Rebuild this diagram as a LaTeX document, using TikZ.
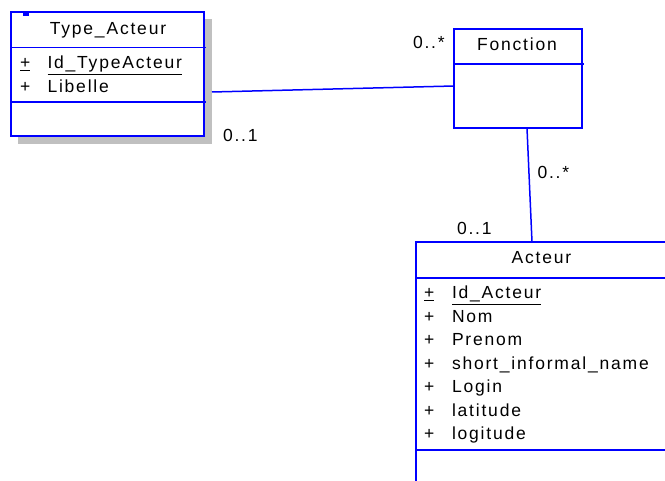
\documentclass[tikz,border=0pt]{standalone}
\usepackage{fontspec}
\newfontfamily\umlfont{Liberation Sans}[LetterSpace=10.3]
\usetikzlibrary{calc}
\definecolor{umlblue}{RGB}{0,0,255}
\definecolor{shadowgray}{RGB}{192,192,192}
\begin{document}
\begin{tikzpicture}[x=1pt,y=-1pt]
\tikzset{
  umlline/.style={draw=umlblue, line width=1.5pt},
  umlbox/.style={draw=umlblue, line width=1.5pt, fill=white, anchor=north west, inner sep=0pt, outer sep=0pt},
  txt/.style={inner sep=0pt, outer sep=0pt, font=\umlfont\fontsize{17.5pt}{20pt}\selectfont, text=black},
  attr/.style={txt, anchor=base west},
  title/.style={txt, anchor=base},
}
\clip (0,0) rectangle (665,481);
\fill[white] (0,0) rectangle (665,481);

% ---------- Type_Acteur ----------
\fill[shadowgray] (18,19) rectangle (212,144);
\node[umlbox, minimum width=193pt, minimum height=124pt] (ta) at (11,12) {};
\fill[umlblue] ($(ta.north west)+(12,1.5)$) rectangle ($(ta.north west)+(17.5,4)$);
\draw[umlline] ($(ta.north west)+(0,35.5)$) -- ($(ta.north east)+(1.5,35.5)$);
\draw[umlline] ($(ta.north west)+(0,90)$) -- ($(ta.north east)+(1.5,90)$);
\node[title] (taT) at (108,34.3) {Type\_Acteur};
\node[attr] (taP1) at (20,69) {\underline{+}};
\node[attr] (taA1) at (47.5,69) {\underline{Id\_TypeActeur}};
\node[attr] (taP2) at (20,92.5) {+};
\node[attr] (taA2) at (47.5,92.5) {Libelle};

% ---------- Fonction ----------
\node[umlbox, minimum width=128pt, minimum height=99pt] (fo) at (454,29) {};
\draw[umlline] ($(fo.north west)+(0,35)$) -- ($(fo.north east)+(2,35)$);
\node[title] (foT) at (517,51) {Fonction};

% ---------- Acteur ----------
\node[umlbox, minimum width=251pt, minimum height=300pt] (ac) at (416,242) {};
\draw[umlline] ($(ac.north west)+(0,36)$) -- ($(ac.north east)+(0,36)$);
\draw[umlline] ($(ac.north west)+(0,208)$) -- ($(ac.north east)+(0,208)$);
\node[title] (acT) at (541.5,264) {Acteur};
\node[attr] (acP1) at (424,299) {\underline{+}};
\node[attr] (acA1) at (452,299) {\underline{Id\_Acteur}};
\node[attr] (acP2) at (424,322.5) {+};
\node[attr] (acA2) at (452,322.5) {Nom};
\node[attr] (acP3) at (424,346) {+};
\node[attr] (acA3) at (452,346) {Prenom};
\node[attr] (acP4) at (424,369.5) {+};
\node[attr] (acA4) at (452,369.5) {short\_informal\_name};
\node[attr] (acP5) at (424,393) {+};
\node[attr] (acA5) at (452,393) {Login};
\node[attr] (acP6) at (424,416.5) {+};
\node[attr] (acA6) at (452,416.5) {latitude};
\node[attr] (acP7) at (424,440) {+};
\node[attr] (acA7) at (452,440) {logitude};

% ---------- Connectors ----------
\coordinate (taR) at ($(ta.north east)+(8,80)$);
\coordinate (foL) at ($(fo.north west)+(0,57)$);
\draw[umlline] (taR) -- (foL);
\coordinate (foB) at ($(fo.south west)+(73,0)$);
\coordinate (acTop) at ($(ac.north west)+(116,0)$);
\draw[umlline] (foB) -- (acTop);

% ---------- Multiplicities ----------
\node[attr] (m1) at (223,142) {0..1};
\node[attr] (m2) at (413,49) {0..*};
\node[attr] (m3) at (537.5,178.3) {0..*};
\node[attr] (m4) at (457,235) {0..1};
\end{tikzpicture}
\end{document}
